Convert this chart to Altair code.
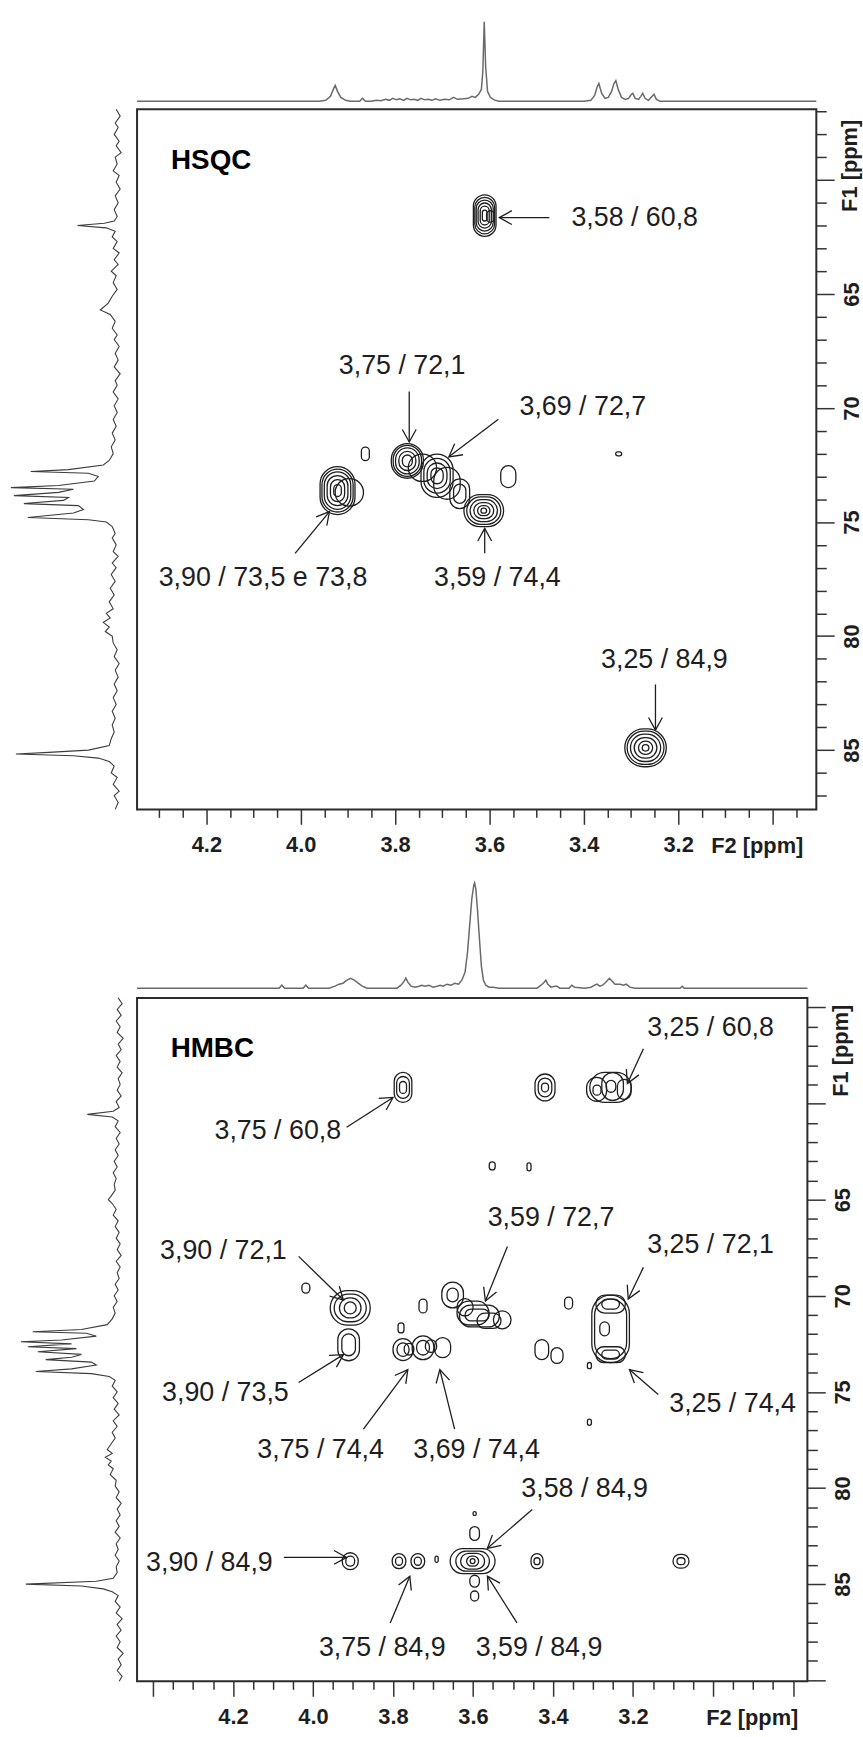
import altair as alt
import pandas as pd

FONT = "Liberation Sans"
INK = "#1e1e1e"
HEAD = "M-1,-0.55L0,0L-1,0.55"

# ======================= HSQC =======================
hsqc_x_domain = [2.907, 4.347]
hsqc_y_domain = [56.9, 87.6]

hsqc_top = [(4.347,0),(3.96,0),(3.947,1),(3.937,5),(3.93,13),(3.927,16),(3.922,10),(3.915,4),(3.905,1),
            (3.895,0),(3.875,0),(3.869,3),(3.863,0),(3.85,0),(3.84,1),(3.83,0.5),(3.82,2),(3.812,1),
            (3.805,3),(3.797,1.5),(3.79,2.5),(3.782,1),(3.775,3),(3.767,1.5),(3.76,2),(3.752,1),(3.745,3),
            (3.737,1.5),(3.73,2),(3.722,1),(3.714,2.5),(3.705,1),(3.695,2),(3.685,1.5),(3.676,4),(3.668,2),
            (3.655,2.5),(3.645,3),(3.637,5),(3.63,4),(3.623,7),(3.617,12),(3.614,30),(3.611,80),(3.608,35),
            (3.604,10),(3.598,4),(3.59,1.5),(3.58,0),(3.40,0),(3.385,1),(3.377,6),(3.372,14),(3.368,18),
            (3.362,8),(3.355,3),(3.348,4),(3.341,10),(3.336,18),(3.332,21),(3.327,12),(3.32,4),(3.312,2),
            (3.305,3),(3.299,7),(3.296,8),(3.291,3),(3.284,2),(3.279,5),(3.275,8),(3.27,3),(3.263,1),
            (3.257,4),(3.251,7),(3.246,2),(3.238,0),(2.907,0)]

hsqc_side = [(56.9,2),(57.2,-2),(57.5,3),(57.7,0),(58.0,4),(58.3,-1),(58.5,2),(58.8,-3),(59.0,3),(59.3,1),
             (59.6,5),(59.8,-1),(60.1,2),(60.4,-2),(60.7,3),(61.0,0),(61.3,4),(61.6,1),(61.8,4),(61.9,14),
             (62.0,41),(62.1,12),(62.25,3),(62.5,6),(62.7,1),(63.0,5),(63.2,-1),(63.5,4),(63.7,0),(64.0,7),
             (64.2,2),(64.5,5),(64.8,1),(65.1,6),(65.4,10),(65.7,18),(65.9,8),(66.2,3),(66.5,6),(66.8,1),
             (67.0,4),(67.3,-1),(67.6,3),(67.9,0),(68.2,4),(68.5,-2),(68.8,3),(69.0,1),(69.3,5),(69.6,0),
             (69.9,4),(70.2,1),(70.5,5),(70.8,2),(71.1,6),(71.4,3),(71.7,7),(72.0,5),(72.3,9),(72.5,15),
             (72.7,50),(72.78,88),(72.86,30),(73.0,20),(73.2,24),(73.4,60),(73.49,108),(73.56,45),(73.7,60),
             (73.84,105),(73.92,50),(74.05,55),(74.19,95),(74.28,40),(74.45,35),(74.6,45),(74.8,91),(74.9,30),
             (75.0,12),(75.2,6),(75.5,3),(75.7,6),(76.0,2),(76.3,5),(76.5,0),(76.8,6),(77.0,2),(77.3,7),
             (77.6,3),(77.9,8),(78.2,4),(78.5,9),(78.8,5),(79.0,12),(79.2,8),(79.4,15),(79.6,9),(79.8,13),
             (80.0,6),(80.3,5),(80.6,1),(80.9,4),(81.2,-1),(81.5,3),(81.8,0),(82.1,4),(82.4,1),(82.7,5),
             (83.0,2),(83.3,6),(83.6,3),(83.9,6),(84.2,4),(84.5,7),(84.8,9),(85.0,30),(85.1,70),(85.17,103),
             (85.25,45),(85.35,20),(85.5,9),(85.7,4),(86.0,7),(86.2,1),(86.5,5),(86.8,-1),(87.0,4),(87.3,0),
             (87.6,3)]

# contour rings: (F2 centre, F1 centre, F2 half-width, F1 half-width)
hsqc_rings = [
    (3.610,61.56,0.024,0.91),(3.610,61.56,0.021,0.80),(3.610,61.56,0.018,0.68),(3.610,61.56,0.014,0.55),
    (3.610,61.56,0.0095,0.41),(3.610,61.56,0.005,0.24),(3.598,61.60,0.008,0.25),
    (3.774,72.32,0.034,0.76),(3.774,72.32,0.030,0.68),(3.774,72.32,0.025,0.57),(3.774,72.32,0.018,0.42),
    (3.774,72.32,0.0105,0.26),
    (3.711,72.97,0.034,0.95),(3.711,72.97,0.028,0.76),(3.711,72.97,0.021,0.56),(3.711,72.97,0.013,0.35),
    (3.742,72.62,0.030,0.60),(3.690,73.30,0.028,0.70),
    (3.663,73.76,0.021,0.65),(3.663,73.76,0.013,0.42),
    (3.612,74.50,0.042,0.70),(3.612,74.50,0.036,0.60),(3.612,74.50,0.029,0.48),(3.612,74.50,0.021,0.35),
    (3.612,74.50,0.013,0.22),(3.612,74.50,0.006,0.11),
    (3.922,73.62,0.037,1.05),(3.922,73.62,0.033,0.94),(3.922,73.62,0.028,0.82),(3.922,73.62,0.022,0.66),
    (3.922,73.62,0.015,0.48),(3.922,73.62,0.008,0.26),
    (3.897,73.70,0.030,0.60),
    (3.863,72.01,0.0084,0.30),(3.560,73.01,0.016,0.48),(3.326,72.01,0.0063,0.09),
    (3.269,84.90,0.044,0.83),(3.269,84.90,0.039,0.73),(3.269,84.90,0.032,0.60),(3.269,84.90,0.024,0.45),
    (3.269,84.90,0.015,0.29),(3.269,84.90,0.007,0.14),
]

hsqc_labels = [("3,58 / 60,8",3.292,61.69),("3,75 / 72,1",3.785,68.18),("3,69 / 72,7",3.402,69.97),
               ("3,90 / 73,5 e 73,8",4.080,77.46),("3,59 / 74,4",3.583,77.46),("3,25 / 84,9",3.229,81.03)]

# arrows: tail F2, tail F1, head F2, head F1, direction (deg)
hsqc_arrows = [(3.473,61.65,3.579,61.65,180),(3.770,69.27,3.770,71.49,90),(3.581,70.49,3.686,72.14,142.8),
               (4.012,76.37,3.939,74.54,309.8),(3.610,76.37,3.610,75.28,270),(3.248,82.12,3.248,84.12,90)]

hsqc_name = [("HSQC",4.275,59.16)]
hsqc_f1_title = [("F1 [ppm]",2.856,59.38)]

# ======================= HMBC =======================
hmbc_x_domain = [2.764, 4.44]
hmbc_y_domain = [54.51, 90.06]

hmbc_top = [(4.44,0),(4.085,0),(4.078,3),(4.071,0),(4.025,0),(4.018,3),(4.011,0),(3.96,0),(3.945,2),(3.935,4),
            (3.925,5),(3.915,8),(3.906,10),(3.897,8),(3.887,5),(3.877,2),(3.865,0),(3.79,0),(3.78,3),(3.772,7),
            (3.768,10),(3.763,6),(3.755,2),(3.745,1),(3.735,2),(3.728,3),(3.72,2),(3.71,3),(3.70,1),(3.69,2),
            (3.682,3),(3.675,2),(3.665,4),(3.655,3),(3.645,5),(3.636,4),(3.628,8),(3.62,16),(3.614,35),(3.608,65),
            (3.603,90),(3.598,104),(3.596,106),(3.593,100),(3.589,80),(3.584,50),(3.579,22),(3.574,8),(3.568,3),
            (3.56,1),(3.55,1),(3.535,0),(3.44,0),(3.43,3),(3.422,6),(3.418,8),(3.413,4),(3.405,1),(3.395,2),
            (3.39,2),(3.383,0),(3.36,0),(3.353,3),(3.346,1),(3.32,0),(3.305,1),(3.296,3),(3.29,4),(3.283,2),
            (3.276,3),(3.268,6),(3.259,10),(3.252,7),(3.245,4),(3.238,4),(3.232,4),(3.224,3),(3.217,4),(3.208,1),
            (3.195,0),(3.082,0),(3.077,2),(3.072,0),(2.764,0)]

hmbc_side = [(54.5,3),(54.8,-1),(55.1,4),(55.4,0),(55.7,5),(56.0,1),(56.3,4),(56.6,-2),(56.9,3),(57.2,0),
             (57.5,5),(57.8,1),(58.1,4),(58.4,-1),(58.7,3),(59.0,1),(59.3,4),(59.6,0),(59.9,5),(60.2,2),
             (60.4,8),(60.56,34),(60.7,9),(60.9,3),(61.2,6),(61.5,1),(61.8,5),(62.1,2),(62.4,6),(62.7,3),
             (63.0,7),(63.3,4),(63.6,8),(63.9,5),(64.2,7),(64.5,6),(64.8,10),(65.0,13),(65.2,9),(65.5,5),
             (65.8,8),(66.1,3),(66.4,6),(66.7,2),(67.0,5),(67.3,1),(67.6,4),(67.9,0),(68.2,5),(68.5,1),
             (68.8,4),(69.1,2),(69.4,6),(69.7,3),(70.0,7),(70.3,4),(70.6,8),(70.9,6),(71.2,9),(71.5,14),
             (71.75,40),(71.87,89),(71.95,35),(72.1,25),(72.3,60),(72.39,101),(72.5,50),(72.65,94),(72.75,45),
             (72.91,84),(73.05,40),(73.2,50),(73.32,76),(73.45,30),(73.6,25),(73.8,50),(73.94,86),(74.05,30),
             (74.2,12),(74.4,6),(74.7,9),(75.0,4),(75.3,8),(75.6,3),(75.9,7),(76.2,2),(76.5,8),(76.8,4),
             (77.1,9),(77.4,6),(77.7,10),(78.0,14),(78.2,9),(78.4,16),(78.6,10),(78.8,13),(79.0,8),(79.3,11),
             (79.6,5),(79.9,6),(80.2,2),(80.5,5),(80.8,0),(81.1,4),(81.4,1),(81.7,5),(82.0,2),(82.3,6),
             (82.6,1),(82.9,5),(83.2,3),(83.5,6),(83.8,2),(84.1,5),(84.4,4),(84.7,8),(84.85,25),(85.0,96),
             (85.1,40),(85.25,18),(85.4,9),(85.6,3),(85.9,6),(86.2,1),(86.5,5),(86.8,-1),(87.1,4),(87.4,0),
             (87.7,5),(88.0,1),(88.3,4),(88.6,-2),(88.9,3),(89.2,0),(89.5,4),(89.8,-1),(90.06,2)]

hmbc_rings = [
    (3.775,59.16,0.022,0.78),(3.775,59.16,0.016,0.57),(3.775,59.16,0.0087,0.31),
    (3.420,59.16,0.025,0.70),(3.420,59.16,0.017,0.49),(3.420,59.16,0.0087,0.23),
    (3.256,59.16,0.052,0.78),(3.291,59.26,0.025,0.62),(3.251,59.11,0.027,0.72),(3.222,59.26,0.017,0.52),
    (3.255,59.10,0.012,0.31),(3.290,59.30,0.010,0.26),
    (3.552,63.24,0.0074,0.21),(3.460,63.29,0.005,0.21),
    (4.018,69.60,0.010,0.26),
    (3.907,70.63,0.050,0.90),(3.907,70.63,0.040,0.72),(3.907,70.63,0.027,0.52),(3.907,70.63,0.015,0.31),
    (3.911,72.55,0.027,0.83),(3.911,72.55,0.017,0.57),
    (3.775,72.80,0.025,0.57),(3.725,72.70,0.027,0.62),(3.676,72.70,0.020,0.52),
    (3.760,72.78,0.012,0.30),(3.705,72.62,0.014,0.33),(3.775,72.80,0.015,0.35),(3.725,72.70,0.016,0.38),
    (3.725,70.53,0.010,0.36),(3.780,71.67,0.0074,0.26),
    (3.651,69.96,0.027,0.67),(3.651,69.96,0.014,0.36),(3.600,70.90,0.040,0.62),(3.584,71.05,0.050,0.57),
    (3.527,71.25,0.022,0.47),(3.560,71.30,0.030,0.40),(3.590,71.00,0.030,0.31),(3.620,70.60,0.020,0.45),
    (3.428,72.80,0.017,0.52),(3.390,73.11,0.015,0.41),
    (3.361,70.38,0.010,0.31),
    (3.256,71.72,0.047,1.76),(3.256,71.72,0.040,1.55),(3.256,70.43,0.037,0.47),(3.256,73.06,0.037,0.41),
    (3.271,71.72,0.012,0.36),(3.256,70.43,0.022,0.26),(3.256,73.06,0.022,0.23),
    (3.309,73.63,0.005,0.16),(3.309,76.58,0.005,0.16),
    (3.907,83.81,0.020,0.44),(3.907,83.81,0.011,0.26),
    (3.785,83.81,0.017,0.39),(3.785,83.81,0.0087,0.21),
    (3.738,83.81,0.017,0.39),(3.738,83.81,0.0087,0.21),
    (3.691,83.71,0.004,0.16),
    (3.601,83.81,0.056,0.65),(3.601,83.81,0.042,0.52),(3.601,83.81,0.030,0.41),(3.601,83.81,0.015,0.26),(3.601,83.81,0.006,0.13),
    (3.596,82.37,0.012,0.36),(3.596,81.33,0.004,0.10),(3.596,84.85,0.012,0.31),(3.596,85.62,0.010,0.26),
    (3.440,83.81,0.015,0.39),(3.440,83.81,0.0074,0.18),
    (3.080,83.81,0.020,0.36),(3.080,83.81,0.010,0.18),
]

hmbc_labels = [("3,25 / 60,8",3.006,56.06),("3,75 / 60,8",4.088,61.44),("3,90 / 72,1",4.224,67.69),
               ("3,59 / 72,7",3.405,65.98),("3,25 / 72,1",3.006,67.38),("3,90 / 73,5",4.219,75.08),
               ("3,25 / 74,4",2.951,75.65),("3,75 / 74,4",3.981,78.02),("3,69 / 74,4",3.591,78.02),
               ("3,58 / 84,9",3.321,80.04),("3,90 / 84,9",4.259,83.92),("3,75 / 84,9",3.827,88.31),
               ("3,59 / 84,9",3.435,88.31)]

hmbc_arrows = [(3.174,57.15,3.214,58.95,114.6),(3.916,61.23,3.800,59.68,327.4),(4.036,67.95,3.924,70.22,44.4),
               (3.514,67.43,3.569,70.27,111.8),(3.174,68.52,3.212,70.17,115.1),(3.137,75.13,3.209,73.84,220.8),
               (4.036,74.51,3.924,73.06,328.1),(3.874,76.94,3.763,73.84,306.9),(3.646,76.94,3.683,73.84,256.0),
               (3.452,81.12,3.564,83.14,139.1),(4.073,83.61,3.916,83.61,0.0),(3.807,87.02,3.758,84.59,293.0),
               (3.490,87.02,3.564,84.59,237.5)]

hmbc_name = [("HMBC",4.356,57.15)]
hmbc_f1_title = [("F1 [ppm]",2.704,57.25)]


# ======================= builders =======================
def rings_df(rings):
    df = pd.DataFrame(rings, columns=["h", "c", "dh", "dc"])
    df["h1"] = df["h"] - df["dh"]
    df["h2"] = df["h"] + df["dh"]
    df["c1"] = df["c"] - df["dc"]
    df["c2"] = df["c"] + df["dc"]
    return df


MINOR_X = "abs(datum.value*5 - round(datum.value*5)) > 0.001"
LABEL_X = ("abs(datum.value*5 - round(datum.value*5)) < 0.001 && datum.value > 3.1 && datum.value < 4.3"
           " ? format(datum.value, '.1f') : ''")


def x_axis(values, title_x):
    return alt.Axis(
        values=values, title="F2 [ppm]", titleX=title_x, titleY=26, titleAlign="center",
        titleBaseline="top", titleFont=FONT, titleFontSize=22, titleFontWeight="bold", titleColor=INK,
        domain=False, grid=False, ticks=True,
        tickSize={"condition": {"test": MINOR_X, "value": 8}, "value": 15},
        tickColor="#333333", tickWidth=1.5,
        labelExpr=LABEL_X, labelFont=FONT, labelFontSize=22, labelFontWeight="bold", labelColor=INK,
        labelPadding=10, labelOverlap=False, labelFlush=False, labelBound=False)


def y_axis(values):
    return alt.Axis(
        values=values, orient="right", title=None,
        domain=False, grid=False, ticks=True,
        tickSize={"condition": {"test": "datum.value % 5 !== 0", "value": 10}, "value": 18},
        tickColor="#333333", tickWidth=1.5,
        labelAngle=270, labelAlign="center", labelBaseline="top", labelPadding=7,
        labelExpr="datum.value % 5 === 0 && datum.value >= 65 && datum.value <= 85 ? datum.label : ''",
        labelFont=FONT, labelFontSize=22, labelFontWeight="bold", labelColor=INK,
        labelOverlap=False, labelFlush=False, labelBound=False)


def main_panel(xdom, ydom, xvals, yvals, title_x, rings, labels, arrows, name, f1, W, H):
    xs = alt.Scale(domain=xdom, reverse=True, nice=False, zero=False)
    ys = alt.Scale(domain=ydom, reverse=True, nice=False, zero=False)
    xa = x_axis(xvals, title_x)
    ya = y_axis(yvals)
    rdf = rings_df(rings)
    ldf = pd.DataFrame(labels, columns=["t", "h", "c"])
    adf = pd.DataFrame(arrows, columns=["h0", "c0", "h1", "c1", "angle"])
    ndf = pd.DataFrame(name, columns=["t", "h", "c"])
    fdf = pd.DataFrame(f1, columns=["t", "h", "c"])

    def X(f):
        return alt.X(f, type="quantitative", scale=xs, axis=xa)

    def Y(f):
        return alt.Y(f, type="quantitative", scale=ys, axis=ya)

    contours = alt.Chart(rdf).mark_rect(
        fillOpacity=0, stroke=INK, strokeWidth=1.3, cornerRadius=500
    ).encode(x=X("h1"), x2="h2:Q", y=Y("c1"), y2="c2:Q")
    shafts = alt.Chart(adf).mark_rule(color=INK, strokeWidth=1.3).encode(
        x=X("h0"), x2="h1:Q", y=Y("c0"), y2="c1:Q")
    heads = alt.Chart(adf).mark_point(
        shape=HEAD, filled=False, size=640, strokeWidth=1.3, color=INK, opacity=1
    ).encode(x=X("h1"), y=Y("c1"), angle=alt.Angle("angle:Q", scale=None))
    texts = alt.Chart(ldf).mark_text(font=FONT, fontSize=27, color=INK, align="center",
                                     baseline="middle").encode(x=X("h"), y=Y("c"), text="t:N")
    title = alt.Chart(ndf).mark_text(font=FONT, fontSize=28, fontWeight="bold", color="#000000",
                                     align="left", baseline="middle").encode(x=X("h"), y=Y("c"), text="t:N")
    f1_title = alt.Chart(fdf).mark_text(font=FONT, fontSize=22, fontWeight="bold", color=INK,
                                        angle=270, align="center", baseline="top").encode(
        x=X("h"), y=Y("c"), text="t:N")
    return alt.layer(contours, shafts, heads, texts, title, f1_title).properties(
        width=W, height=H, view=alt.ViewBackground(stroke="#2b2b2b", strokeWidth=2))


def top_proj(points, xdom, idom, W, H):
    df = pd.DataFrame(points, columns=["ppm", "i"])
    return alt.Chart(df).mark_line(color="#6a6a6a", strokeWidth=1.5).encode(
        x=alt.X("ppm:Q", scale=alt.Scale(domain=xdom, reverse=True, nice=False, zero=False), axis=None),
        y=alt.Y("i:Q", scale=alt.Scale(domain=idom, nice=False, zero=False), axis=None),
        order="ppm:Q",
    ).properties(width=W, height=H)


def side_proj(points, ydom, idom, W, H):
    df = pd.DataFrame(points, columns=["ppm", "i"])
    return alt.Chart(df).mark_line(color="#3c3c3c", strokeWidth=1.1).encode(
        x=alt.X("i:Q", scale=alt.Scale(domain=idom, reverse=True, nice=False, zero=False), axis=None),
        y=alt.Y("ppm:Q", scale=alt.Scale(domain=ydom, reverse=True, nice=False, zero=False), axis=None),
        order="ppm:Q",
    ).properties(width=W, height=H)


def spacer(W, H):
    return alt.Chart(pd.DataFrame({"a": [0]})).mark_rect(opacity=0).encode(
        x=alt.value(0), x2=alt.value(1), y=alt.value(0), y2=alt.value(1)
    ).properties(width=W, height=H)


hsqc_xticks = [round(2.95 + 0.05 * k, 2) for k in range(28)]
hmbc_xticks = [round(2.80 + 0.05 * k, 2) for k in range(33)]
hsqc_yticks = list(range(57, 88))
hmbc_yticks = list(range(55, 91))

hsqc_main = main_panel(hsqc_x_domain, hsqc_y_domain, hsqc_xticks, hsqc_yticks, 624,
                       hsqc_rings, hsqc_labels, hsqc_arrows, hsqc_name, hsqc_f1_title, 684, 705)
hmbc_main = main_panel(hmbc_x_domain, hmbc_y_domain, hmbc_xticks, hmbc_yticks, 619,
                       hmbc_rings, hmbc_labels, hmbc_arrows, hmbc_name, hmbc_f1_title, 675, 688)

cells = [
    spacer(128, 103), top_proj(hsqc_top, hsqc_x_domain, [-8, 95], 684, 103),
    side_proj(hsqc_side, hsqc_y_domain, [-10, 118], 128, 705), hsqc_main,
    spacer(137, 190), top_proj(hmbc_top, hmbc_x_domain, [-10, 180], 675, 190),
    side_proj(hmbc_side, hmbc_y_domain, [-16, 121], 137, 688), hmbc_main,
]

chart = alt.concat(*cells, columns=2, spacing=0, bounds="flush", align="none").properties(
    padding=0, background="white"
).configure_view(stroke="transparent")

chart.save("out.html", embed_options={"renderer": "svg", "actions": False})
